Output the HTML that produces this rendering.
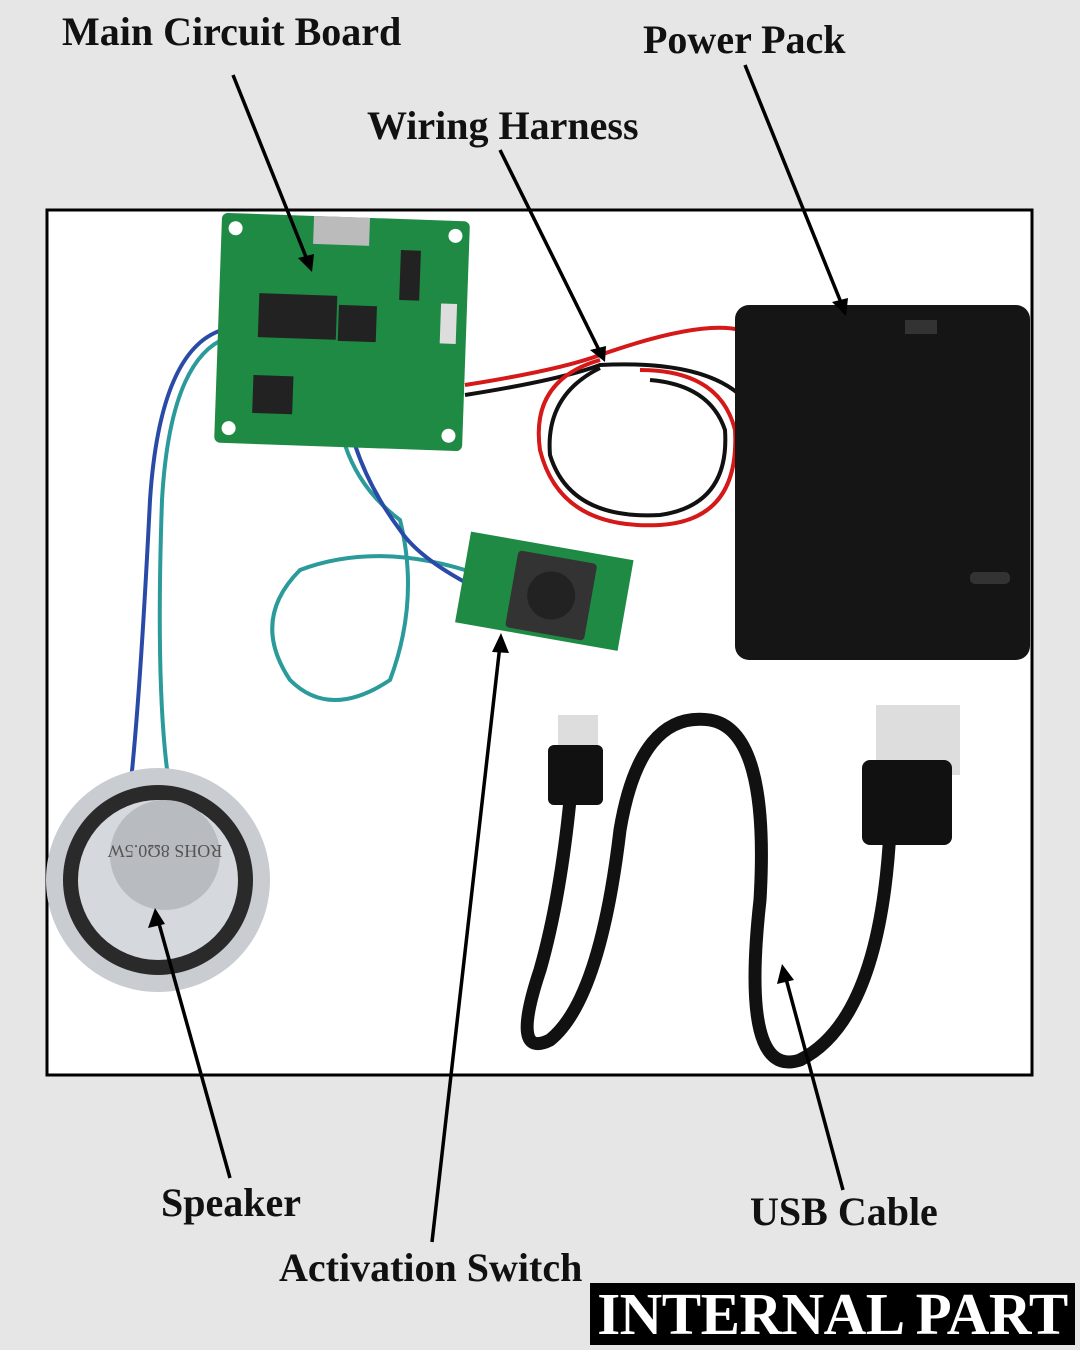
<!DOCTYPE html>
<html><head><meta charset="utf-8"><style>
html,body{margin:0;padding:0;background:#e6e6e6;}
body{width:1080px;height:1350px;position:relative;overflow:hidden;font-family:"Liberation Serif",serif;}
.lbl{position:absolute;font-weight:bold;font-size:40px;color:#111;white-space:nowrap;}
</style></head><body>
<svg width="1080" height="1350" style="position:absolute;left:0;top:0">
<rect x="47" y="210" width="985" height="865" fill="#fff" stroke="#000" stroke-width="3"/>
<path d="M465 385 Q560 370 600 355 Q700 320 740 330" stroke="#d51818" stroke-width="4" fill="none"/>
<path d="M465 395 Q560 380 600 365 Q700 360 740 395" stroke="#111" stroke-width="4" fill="none"/>
<path d="M600 360 Q530 380 540 450 Q560 530 660 525 Q740 520 735 430 Q720 370 640 370" stroke="#d51818" stroke-width="4" fill="none"/>
<path d="M600 368 Q545 395 550 455 Q570 520 660 515 Q730 505 725 430 Q710 385 650 380" stroke="#111" stroke-width="4" fill="none"/>
<path d="M222 330 Q160 350 150 500 Q140 700 130 790" stroke="#2a4aa8" stroke-width="4" fill="none"/>
<path d="M226 338 Q170 360 162 500 Q155 700 170 790" stroke="#2a9a9a" stroke-width="4" fill="none"/>
<path d="M345 445 Q360 490 400 520 Q420 600 390 680 Q330 720 290 680 Q250 620 300 570 Q380 540 480 575" stroke="#2a9a9a" stroke-width="4" fill="none"/>
<path d="M355 445 Q370 490 400 530 Q420 560 480 590" stroke="#2a4aa8" stroke-width="4" fill="none"/>
<g transform="rotate(2 342 333)">
<rect x="218" y="217" width="248" height="230" rx="6" fill="#1f8a43"/>
<rect x="258" y="296" width="78" height="44" fill="#222"/>
<rect x="338" y="305" width="38" height="36" fill="#222"/>
<rect x="255" y="378" width="40" height="38" fill="#222"/>
<rect x="310" y="217" width="56" height="28" fill="#bbb"/>
<rect x="398" y="248" width="20" height="50" fill="#222"/>
<rect x="440" y="300" width="16" height="40" fill="#ddd"/>
<circle cx="232" cy="232" r="7" fill="#fff"/><circle cx="452" cy="232" r="7" fill="#fff"/>
<circle cx="232" cy="432" r="7" fill="#fff"/><circle cx="452" cy="432" r="7" fill="#fff"/>
</g>
<g transform="rotate(10 543 590)">
<rect x="462" y="545" width="165" height="92" fill="#1f8a43"/>
<rect x="512" y="555" width="80" height="78" rx="4" fill="#333"/>
<circle cx="552" cy="594" r="24" fill="#222"/>
</g>
<rect x="735" y="305" width="295" height="355" rx="14" fill="#151515"/>
<rect x="905" y="320" width="32" height="14" fill="#333"/>
<rect x="970" y="572" width="40" height="12" rx="5" fill="#333"/>
<circle cx="158" cy="880" r="112" fill="#c9cdd2"/>
<circle cx="158" cy="880" r="95" fill="#2a2a2a"/>
<circle cx="158" cy="880" r="80" fill="#d5d8dc"/>
<circle cx="165" cy="855" r="55" fill="#b8bcc1"/>
<text x="165" y="865" font-size="18" text-anchor="middle" fill="#555" transform="rotate(180 165 855)">ROHS 8Ω0.5W</text>
<path d="M570 800 Q560 900 540 970 Q510 1060 550 1040 Q600 1000 620 830 Q640 710 710 720 Q770 730 760 900 Q740 1080 800 1060 Q880 1020 890 830" stroke="#111" stroke-width="13" fill="none" stroke-linecap="round"/>
<rect x="558" y="715" width="40" height="40" fill="#ddd"/>
<rect x="548" y="745" width="55" height="60" rx="6" fill="#111"/>
<rect x="876" y="705" width="84" height="70" fill="#ddd"/>
<rect x="862" y="760" width="90" height="85" rx="8" fill="#111"/>
<g stroke="#000" stroke-width="3.5" fill="#000">
<line x1="233" y1="75" x2="308" y2="262"/>
<line x1="745" y1="65" x2="842" y2="305"/>
<line x1="500" y1="150" x2="600" y2="352"/>
<line x1="230" y1="1178" x2="158" y2="920"/>
<line x1="432" y1="1242" x2="500" y2="645"/>
<line x1="843" y1="1190" x2="785" y2="975"/>
</g>
<g fill="#000">
<polygon points="312,272 298,258 314,254"/>
<polygon points="846,316 832,302 848,298"/>
<polygon points="605,362 590,350 606,346"/>
<polygon points="155,908 148,928 165,924"/>
<polygon points="501,633 492,652 509,653"/>
<polygon points="782,964 777,984 794,980"/>
</g>
</svg>
<div class="lbl" style="left:62px;top:8px">Main Circuit Board</div>
<div class="lbl" style="left:643px;top:16px">Power Pack</div>
<div class="lbl" style="left:367px;top:102px">Wiring Harness</div>
<div class="lbl" style="left:161px;top:1179px">Speaker</div>
<div class="lbl" style="left:750px;top:1188px">USB Cable</div>
<div class="lbl" style="left:279px;top:1244px">Activation Switch</div>
<div style="position:absolute;left:590px;top:1283px;width:485px;height:62px;background:#000;color:#fff;font-weight:bold;font-size:59px;line-height:62px;text-align:center;letter-spacing:-0.5px;">INTERNAL PART</div>
</body></html>
